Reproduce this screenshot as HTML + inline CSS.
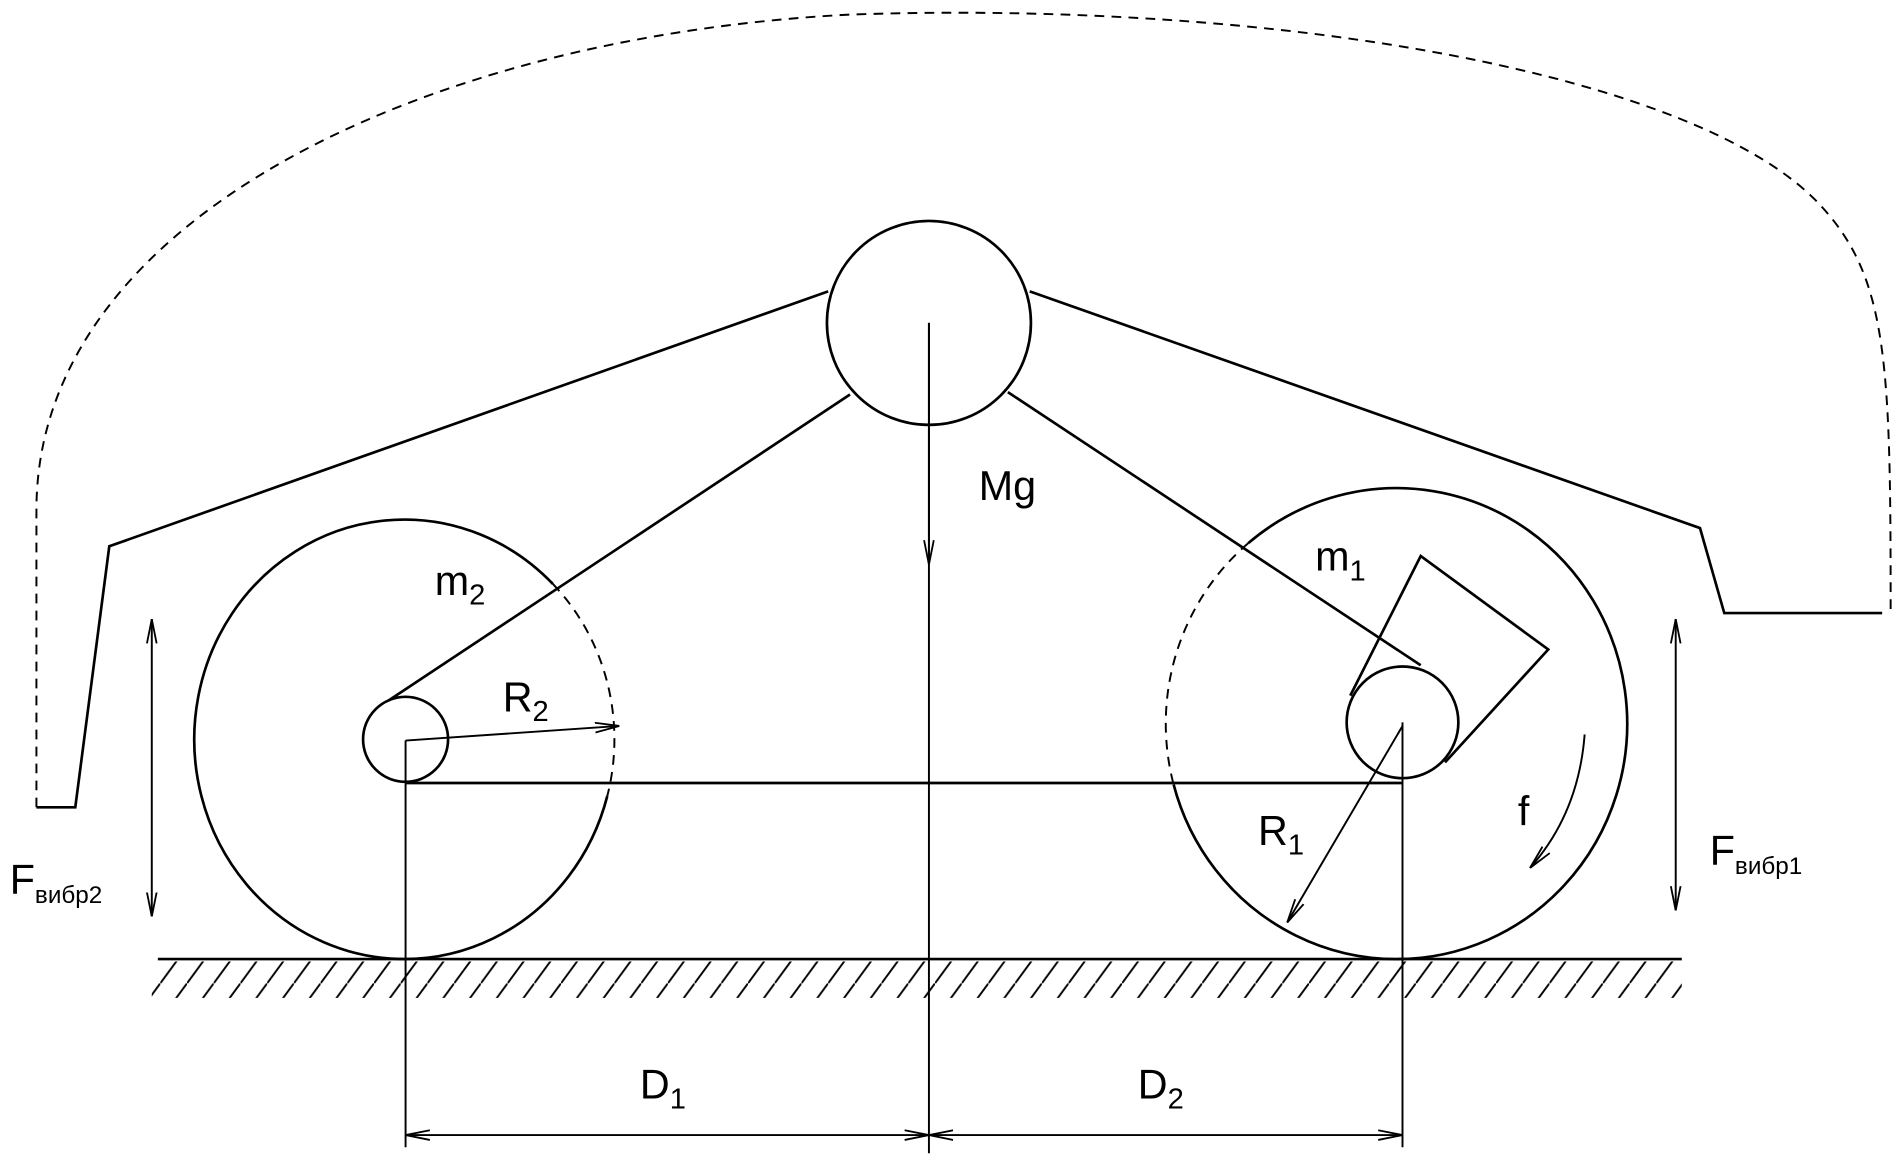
<!DOCTYPE html>
<html><head><meta charset="utf-8"><style>
html,body{margin:0;padding:0;background:#fff;}
svg{display:block;}
text{font-family:"Liberation Sans",sans-serif;fill:#000;}
</style></head><body>
<svg width="1904" height="1163" viewBox="0 0 1568 958" preserveAspectRatio="none" xmlns="http://www.w3.org/2000/svg">
<defs>
<marker id="a" viewBox="0 0 20 10" refX="20" refY="5" markerWidth="20" markerHeight="10" markerUnits="userSpaceOnUse" orient="auto-start-reverse">
<path d="M0,1 L20,5 L0,9" fill="none" stroke="#000" stroke-width="1.5"/></marker>
<pattern id="h" width="22" height="30" patternUnits="userSpaceOnUse"><line x1="0" y1="30" x2="22" y2="0" stroke="#000" stroke-width="1.6"/></pattern>
</defs>
<g fill="none" stroke="#000" stroke-width="2.2">
<path d="M30,665 L30,420 C30,180 350,30 700,12 C1050,0 1400,60 1500,170 C1555,230 1557,300 1557,505" stroke-dasharray="8,6" stroke-width="1.6"/>
<polyline points="30,665 62,665 90,450 682,240"/>
<polyline points="848,240 1400,435 1420,505 1550,505"/>
<circle cx="765" cy="266" r="84"/>
<line x1="700" y1="325" x2="320" y2="577"/>
<line x1="830" y1="323" x2="1170" y2="548"/>
<!-- left wheel -->
<path d="M455.3,481 A173,181 0 1 0 500.1,655.8"/>
<path d="M455.3,481 A173,181 0 0 1 500.1,655.8" stroke-dasharray="8,6" stroke-width="1.6"/>
<circle cx="334" cy="609" r="35"/>
<!-- right wheel -->
<path d="M1028,447.4 A190,194 0 1 1 966.5,646.2"/>
<path d="M1028,447.4 A190,194 0 0 0 966.5,646.2" stroke-dasharray="8,6" stroke-width="1.6"/>
<circle cx="1155" cy="595" r="46"/>
<line x1="334" y1="645" x2="1155" y2="645"/>
<polyline points="1112,573 1170,458 1275,535 1190,628"/>
<line x1="765" y1="266" x2="765" y2="950" stroke-width="1.6"/>
<line x1="765" y1="266" x2="765" y2="465" stroke-width="1.6" marker-end="url(#a)"/>
<line x1="334" y1="610" x2="334" y2="945" stroke-width="1.6"/>
<line x1="1155" y1="595" x2="1155" y2="945" stroke-width="1.6"/>
<line x1="130" y1="790" x2="1385" y2="790"/>
</g>
<rect x="125" y="792" width="1260" height="30" fill="url(#h)"/>
<g fill="none" stroke="#000" stroke-width="1.6">
<line x1="334" y1="935" x2="765" y2="935" marker-start="url(#a)" marker-end="url(#a)"/>
<line x1="765" y1="935" x2="1155" y2="935" marker-start="url(#a)" marker-end="url(#a)"/>
<line x1="334" y1="610" x2="510" y2="598" marker-end="url(#a)"/>
<line x1="1155" y1="598" x2="1060" y2="760" marker-end="url(#a)"/>
<path d="M1305,605 Q1300,670 1260,715" marker-end="url(#a)"/>
<line x1="125" y1="510" x2="125" y2="755" marker-start="url(#a)" marker-end="url(#a)"/>
<line x1="1380" y1="510" x2="1380" y2="750" marker-start="url(#a)" marker-end="url(#a)"/>
</g>
<g font-size="34">
<text x="806" y="412">Mg</text>
<text x="358" y="490">m<tspan font-size="24" dy="8">2</tspan></text>
<text x="414" y="586">R<tspan font-size="24" dy="8">2</tspan></text>
<text x="1083" y="470">m<tspan font-size="24" dy="8">1</tspan></text>
<text x="1036" y="696">R<tspan font-size="24" dy="8">1</tspan></text>
<text x="1250" y="680">f</text>
<text x="527" y="905">D<tspan font-size="24" dy="8">1</tspan></text>
<text x="937" y="905">D<tspan font-size="24" dy="8">2</tspan></text>
<text x="8" y="736">F<tspan font-size="20" dy="8">вибр2</tspan></text>
<text x="1408" y="712">F<tspan font-size="20" dy="8">вибр1</tspan></text>
</g>
</svg>
</body></html>
